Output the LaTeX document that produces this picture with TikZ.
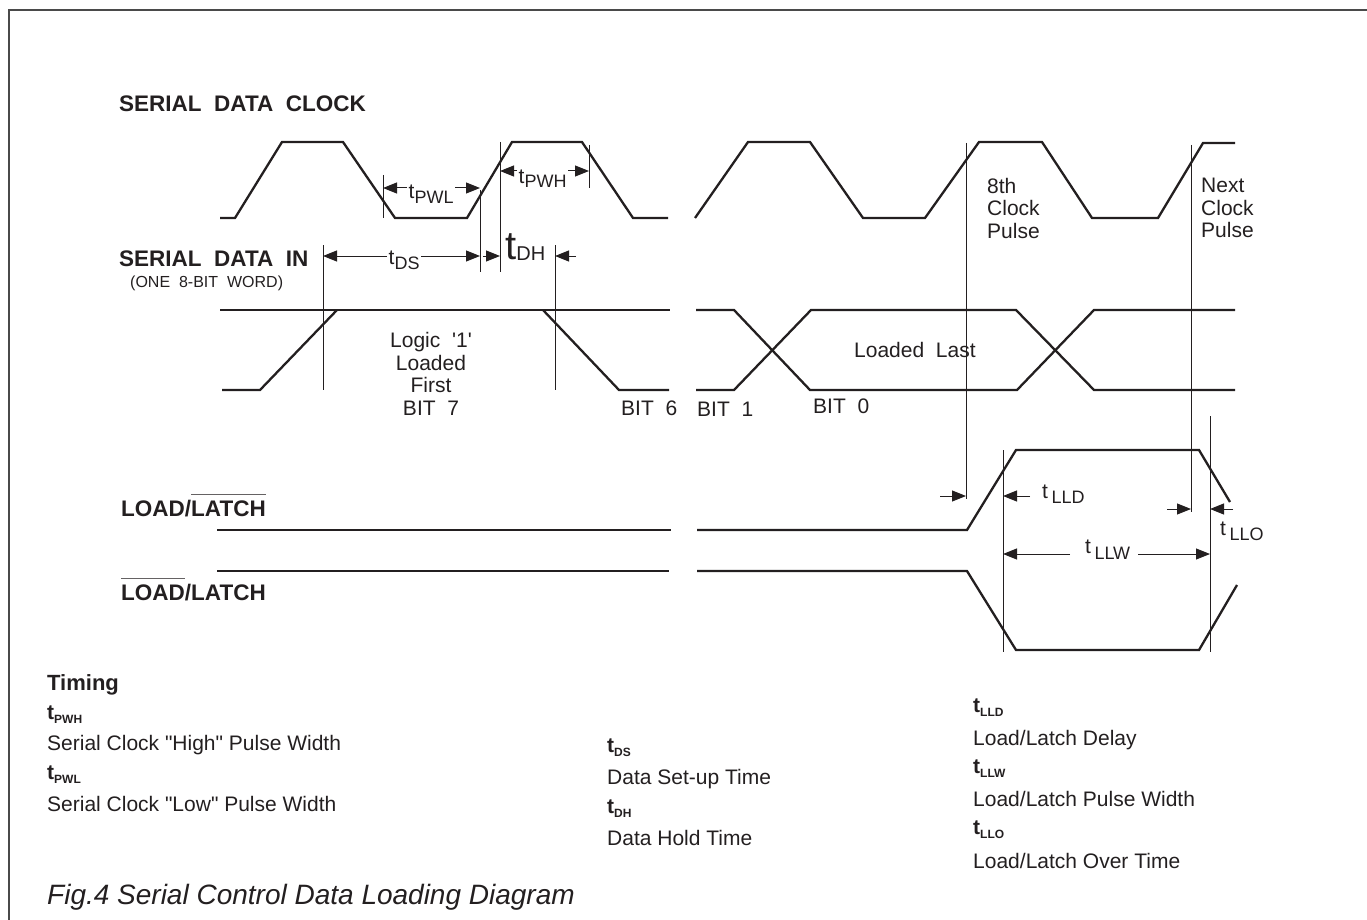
\documentclass[tikz,border=0pt]{standalone}
\usepackage{fontspec}
\setmainfont{Liberation Sans}[Ligatures=TeXOff]
\usetikzlibrary{arrows.meta}
\definecolor{ink}{HTML}{231F20}
\definecolor{framec}{HTML}{4A4A4A}
\newcommand\tsb[1]{t\raisebox{-5pt}{\fontsize{18}{18}\selectfont #1}}
\newcommand\lgt[1]{\textbf{t}\raisebox{-4pt}{\fontsize{12}{12}\selectfont\bfseries #1}}
\newcommand\ovl[1]{\setbox0=\hbox{#1}\rlap{\raisebox{\dimexpr\ht0+5pt\relax}{\color{ink!70}\rule{\wd0}{0.9pt}}}\box0}
\tikzset{
  wave/.style={line width=2.3pt, draw=ink, line join=miter, line cap=butt},
  guide/.style={line width=1pt, draw=ink},
  dimarrow/.style={line width=1pt, draw=ink, -{Triangle[length=14pt,width=11pt]}},
  txt/.style={inner sep=0pt, text=ink, font=\fontsize{21}{22.5}\selectfont},
  head/.style={inner sep=0pt, text=ink, anchor=base west, font=\fontsize{22.5}{24}\selectfont\bfseries},
  lab/.style={txt, anchor=base west, inner xsep=1.5pt},
  leg/.style={inner sep=0pt, text=ink, anchor=base west, font=\fontsize{21}{22}\selectfont},
}
\begin{document}
\begin{tikzpicture}[x=1pt,y=-1pt]
\useasboundingbox (0,0) rectangle (1367,920);
\draw[line width=1.3pt, framec] (9,921) -- (9,10) -- (1368,10);

% signal headings
\node[head] (hclk) at (119,112) {SERIAL\ \ DATA\ \ CLOCK};
\node[head] (hdin) at (119,266) {SERIAL\ \ DATA\ \ IN};
\node[txt, anchor=base west, font=\fontsize{16}{17}\selectfont] (hword) at (130,287) {(ONE\ \ 8-BIT\ \ WORD)};
\node[head] (hll) at (121,516) {LOAD/\ovl{LATCH}};
\node[head] (hlb) at (121,600) {\ovl{LOAD}/LATCH};

% clock
\draw[wave] (220,218) -- (235,218) -- (282,142) -- (343,142) -- (395,218) -- (467,218) -- (512,142) -- (582,142) -- (633,218) -- (668,218);
\draw[wave] (695,218) -- (748,142) -- (810,142) -- (863,218) -- (925,218) -- (979,142) -- (1042,142) -- (1092,218) -- (1158,218) -- (1203,143) -- (1235,143);

% data in
\draw[wave] (220,310) -- (670,310);
\draw[wave] (222,390) -- (260,390) -- (337,310);
\draw[wave] (543,310) -- (619,390) -- (669,390);
\draw[wave] (696,310) -- (734,310) -- (810,390) -- (1017,390) -- (1094,310) -- (1235,310);
\draw[wave] (696,390) -- (734,390) -- (811,310) -- (1016,310) -- (1094,390) -- (1235,390);

% load / latch
\draw[wave] (217,530) -- (671,530);
\draw[wave] (697,530) -- (967,530) -- (1016,450) -- (1199,450) -- (1230,502);
\draw[wave] (217,571) -- (669,571);
\draw[wave] (697,571) -- (967,571) -- (1016,650) -- (1199,650) -- (1237,585);

% guide lines
\coordinate (gA) at (383,175); \coordinate (gAb) at (383,218);
\coordinate (gB) at (480,190); \coordinate (gBb) at (480,272);
\coordinate (gC) at (500,142); \coordinate (gCb) at (500,272);
\coordinate (gD) at (589,145); \coordinate (gDb) at (589,188);
\coordinate (gE) at (323,245); \coordinate (gEb) at (323,390);
\coordinate (gF) at (555,245); \coordinate (gFb) at (555,390);
\coordinate (gG) at (966,143); \coordinate (gGb) at (966,499);
\coordinate (gH) at (1191,145); \coordinate (gHb) at (1191,512);
\coordinate (gI) at (1003,450); \coordinate (gIb) at (1003,652);
\coordinate (gJ) at (1210,416); \coordinate (gJb) at (1210,652);
\foreach \g in {gA,gB,gC,gD,gE,gF,gG,gH,gI,gJ} \draw[guide] (\g) -- (\g b);

% timing labels and arrows
\coordinate (ypwl) at (0,188);
\coordinate (ypwh) at (0,171);
\coordinate (yds) at (0,256);
\coordinate (ylld) at (0,496);
\coordinate (yllo) at (0,509);
\coordinate (yllw) at (0,554);

\node[lab] (tpwl) at (407,199) {\tsb{PWL}};
\draw[dimarrow] (tpwl.west |- ypwl) -- (gA |- ypwl);
\draw[dimarrow] (tpwl.east |- ypwl) -- (gB |- ypwl);

\node[lab] (tpwh) at (517,183) {\tsb{PWH}};
\draw[dimarrow] (tpwh.west |- ypwh) -- (gC |- ypwh);
\draw[dimarrow] (tpwh.east |- ypwh) -- (gD |- ypwh);

\node[lab] (tds) at (387,264) {\tsb{DS}};
\draw[dimarrow] (tds.west |- yds) -- (gE |- yds);
\draw[dimarrow] (tds.east |- yds) -- (gB |- yds);

\node[lab, inner xsep=0pt] (tdh) at (505,259) {{\fontsize{40}{40}\selectfont t}\raisebox{-1pt}{\fontsize{20}{20}\selectfont DH}};
\coordinate (dhl) at (483,256);
\coordinate (dhr) at (576,256);
\draw[dimarrow] (dhl) -- (gC |- yds);
\draw[dimarrow] (dhr) -- (gF |- yds);

\node[lab, inner xsep=0pt] (tlld) at (1042,498) {t\,\raisebox{-5pt}{\fontsize{18}{18}\selectfont LLD}};
\coordinate (lldl) at (940,496);
\coordinate (lldr) at (1030,496);
\draw[dimarrow] (lldl) -- (gG |- ylld);
\draw[dimarrow] (lldr) -- (gI |- ylld);

\node[lab, inner xsep=0pt] (tllo) at (1220,535) {t\,\raisebox{-5pt}{\fontsize{18}{18}\selectfont LLO}};
\coordinate (llol) at (1167,509);
\coordinate (llor) at (1233,509);
\draw[dimarrow] (llol) -- (gH |- yllo);
\draw[dimarrow] (llor) -- (gJ |- yllo);

\node[lab, inner xsep=0pt] (tllw) at (1085,553) {t\,\raisebox{-6pt}{\fontsize{18}{18}\selectfont LLW}};
\coordinate (llwl) at (1070,554);
\coordinate (llwr) at (1138,554);
\draw[dimarrow] (llwl) -- (gI |- yllw);
\draw[dimarrow] (llwr) -- (gJ |- yllw);

% waveform annotations
\node[txt, anchor=north west, align=left] (n8th) at (987,178) {8th\\Clock\\Pulse};
\node[txt, anchor=north west, align=left] (nnext) at (1201,178) {Next\\Clock\\Pulse};
\node[txt, anchor=north, align=center, font=\fontsize{21}{22.7}\selectfont] (nlogic) at (431,332) {Logic\ \ '1'\\Loaded\\First\\BIT\ \ 7};
\node[lab, inner xsep=0pt] (bit6) at (621,415) {BIT\ \ 6};
\node[lab, inner xsep=0pt] (bit1) at (697,416) {BIT\ \ 1};
\node[lab, inner xsep=0pt] (bit0) at (813,413) {BIT\ \ 0};
\node[lab, inner xsep=0pt] (nlast) at (854,357) {Loaded\ \ Last};

% legend
\node[leg, font=\fontsize{22}{24}\selectfont\bfseries] (ltim) at (47,690) {Timing};
\node[leg] (l1a) at (47,719) {\lgt{PWH}};
\node[leg] (l1b) at (47,750) {Serial Clock "High" Pulse Width};
\node[leg] (l1c) at (47,779) {\lgt{PWL}};
\node[leg] (l1d) at (47,811) {Serial Clock "Low" Pulse Width};
\node[leg] (l2a) at (607,752) {\lgt{DS}};
\node[leg] (l2b) at (607,784) {Data Set-up Time};
\node[leg] (l2c) at (607,813) {\lgt{DH}};
\node[leg] (l2d) at (607,845) {Data Hold Time};
\node[leg] (l3a) at (973,712) {\lgt{LLD}};
\node[leg] (l3b) at (973,745) {Load/Latch Delay};
\node[leg] (l3c) at (973,773) {\lgt{LLW}};
\node[leg] (l3d) at (973,806) {Load/Latch Pulse Width};
\node[leg] (l3e) at (973,834) {\lgt{LLO}};
\node[leg] (l3f) at (973,868) {Load/Latch Over Time};
\node[leg, font=\fontsize{28}{30}\selectfont\itshape] (cap) at (47,904) {Fig.4 Serial Control Data Loading Diagram};
\end{tikzpicture}
\end{document}
